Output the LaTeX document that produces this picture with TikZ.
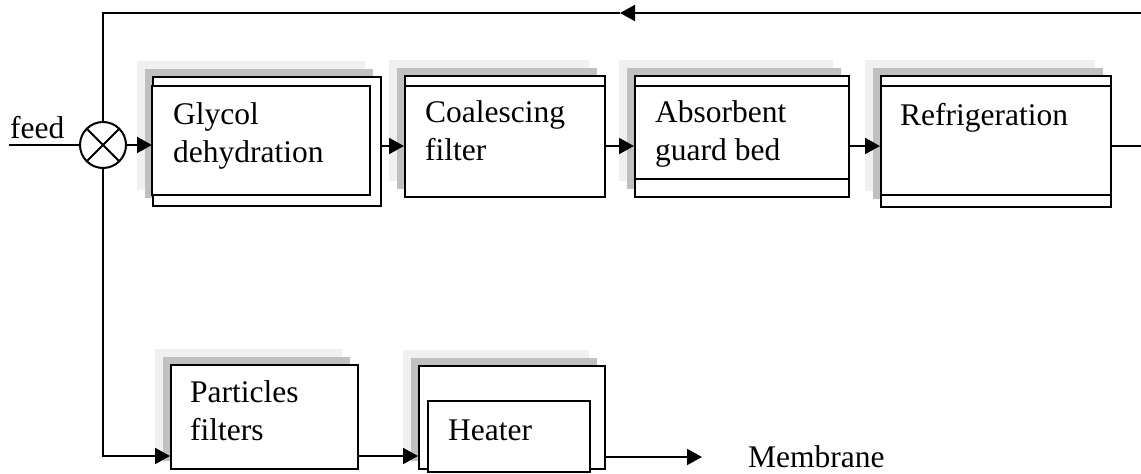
\documentclass[tikz,border=0pt]{standalone}
\usepackage{fontspec}
\setmainfont{Liberation Serif}
\usetikzlibrary{arrows.meta,shadows}
\definecolor{shadedark}{HTML}{C0C0C0}
\definecolor{shadelight}{HTML}{F0F0F0}
\newcommand\boxfont{\fontsize{31.5}{37.5}\selectfont}

\tikzset{
  unit/.style={draw, line width=2pt, fill=white, anchor=north west, inner sep=0pt,
    general shadow={shadow xshift=-16pt, shadow yshift=16pt, fill=shadelight, draw=none},
    general shadow={shadow xshift=-8pt, shadow yshift=8pt, fill=shadedark, draw=none}},
  frame/.style={draw, line width=2pt, fill=white},
  line/.style={line width=2pt},
  flow/.style={line width=2pt, -{Triangle[length=15pt,width=16pt]}},
  lbl/.style={anchor=base west, align=left, inner sep=0pt, font=\boxfont},
  mixer/.style={draw, circle, line width=2pt, minimum size=46pt, inner sep=0pt,
    path picture={
      \draw[line width=2pt] (path picture bounding box.north west) -- (path picture bounding box.south east);
      \draw[line width=2pt] (path picture bounding box.south west) -- (path picture bounding box.north east);
    }}
}

\begin{document}
\begin{tikzpicture}[x=1pt,y=-1pt]
\useasboundingbox (0,0) rectangle (1141,474);

% mixing point and feed
\node[mixer] (mix) at (103,145) {};
\node[lbl] (feed) at (10,138) {feed};
\coordinate (feedin) at (9,145);
\draw[line] (feedin) -- (mix);

% upper row
\node[unit, minimum width=228pt, minimum height=129pt] (glycol) at (152,76) {};
\draw[frame] (152,86) rectangle (370,195);
\node[unit, minimum width=200pt, minimum height=121pt] (coal) at (404,75) {};
\draw[line] (404,86) -- (604,86);
\node[unit, minimum width=214pt, minimum height=121pt] (absorb) at (634,75) {};
\draw[line] (634,86) -- (848,86);
\draw[line] (634,179) -- (848,179);
\node[unit, minimum width=230pt, minimum height=131pt] (refrig) at (880,75) {};
\draw[line] (880,86) -- (1110,86);
\draw[line] (880,195) -- (1110,195);

% (base = last line)
\node[lbl] (glycoltxt) at (173,162) {Glycol\\dehydration};
\node[lbl] (coaltxt) at (425,160) {Coalescing\\filter};
\node[lbl] (absorbtxt) at (655,160) {Absorbent\\guard bed};
\node[lbl] (refrigtxt) at (900,125) {Refrigeration};

% lower row
\node[unit, minimum width=187pt, minimum height=104pt] (partic) at (170,364) {};
\node[unit, minimum width=186pt, minimum height=103pt] (heater) at (418,365) {};
\draw[frame] (428,401) rectangle (590,472);

\node[lbl] (partictxt) at (190,440) {Particles\\filters};
\node[lbl] (heatertxt) at (448,440) {Heater};
\node[lbl] (memb) at (748,467) {Membrane};

% connectors
\coordinate (row) at (0,146);
\coordinate (brow) at (0,456);
\coordinate (out) at (702,457);
\draw[flow] (mix) -- (glycol.west |- mix);
\foreach \a/\b in {glycol/coal, coal/absorb, absorb/refrig} {
  \draw[flow] (\a.east |- row) -- (\b.west |- row);
}
\draw[flow] (mix) |- (partic.west |- brow);
\draw[flow] (partic.east |- brow) -- (heater.west |- brow);
\draw[flow] (heater.east |- out) -- (out);

% recycle loop
\coordinate (retr) at (1150,146);
\coordinate (rett) at (1150,13);
\coordinate (topmid) at (620,13);
\coordinate (topl) at (103,13);
\draw[line] (refrig.east |- row) -- (retr) -- (rett);
\draw[flow] (rett) -- (topmid);
\draw[line] (topmid) -- (topl) -- (mix);

\end{tikzpicture}
\end{document}
